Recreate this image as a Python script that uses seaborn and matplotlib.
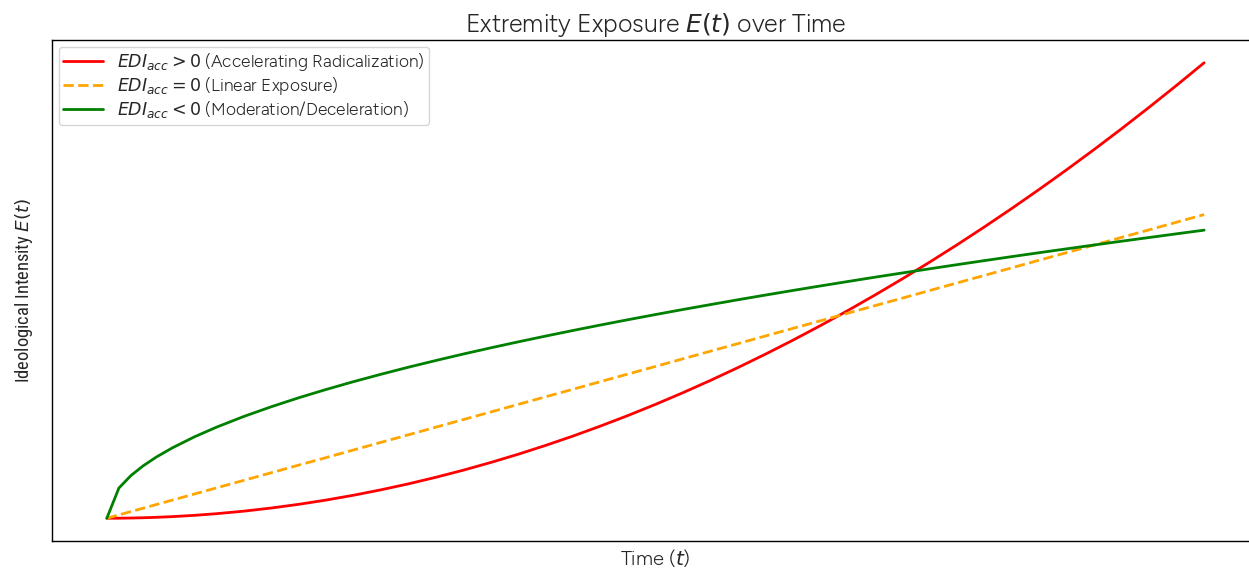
import pandas as pd
import matplotlib.pyplot as plt
import seaborn as sns

# time samples and the three exposure curves
t = [0, 0.11, 0.22, 0.33, 0.45, 0.6, 0.8, 1.0, 1.25, 1.5, 1.75, 2, 2.25, 2.5, 2.75, 3,
     3.25, 3.5, 3.75, 4, 4.25, 4.5, 4.75, 5, 5.25, 5.5, 5.75, 6, 6.25, 6.5, 6.75, 7,
     7.25, 7.5, 7.75, 8, 8.25, 8.5, 8.75, 9, 9.25, 9.5, 9.75, 10]
e_accel = [0, 0.001, 0.005, 0.011, 0.020, 0.036, 0.064, 0.1, 0.156, 0.225, 0.306, 0.4,
           0.506, 0.625, 0.756, 0.9, 1.056, 1.225, 1.406, 1.6, 1.806, 2.025, 2.256, 2.5,
           2.756, 3.025, 3.306, 3.6, 3.906, 4.225, 4.556, 4.9, 5.256, 5.625, 6.006, 6.4,
           6.806, 7.225, 7.656, 8.1, 8.556, 9.025, 9.506, 10]
e_linear = [0, 0.073, 0.147, 0.22, 0.3, 0.4, 0.533, 0.667, 0.833, 1.0, 1.167, 1.333,
            1.5, 1.667, 1.833, 2.0, 2.167, 2.333, 2.5, 2.667, 2.833, 3.0, 3.167, 3.333,
            3.5, 3.667, 3.833, 4.0, 4.167, 4.333, 4.5, 4.667, 4.833, 5.0, 5.167, 5.333,
            5.5, 5.667, 5.833, 6.0, 6.167, 6.333, 6.5, 6.667]
e_decel = [0, 0.663, 0.938, 1.149, 1.342, 1.549, 1.789, 2.0, 2.236, 2.449, 2.646, 2.828,
           3.0, 3.162, 3.317, 3.464, 3.606, 3.742, 3.873, 4.0, 4.123, 4.243, 4.359, 4.472,
           4.583, 4.690, 4.796, 4.899, 5.0, 5.099, 5.196, 5.292, 5.385, 5.477, 5.568,
           5.657, 5.745, 5.831, 5.916, 6.0, 6.083, 6.164, 6.245, 6.325]

labels = [r"$EDI_{acc} > 0$ (Accelerating Radicalization)",
          r"$EDI_{acc} = 0$ (Linear Exposure)",
          r"$EDI_{acc} < 0$ (Moderation/Deceleration)"]

df = pd.DataFrame({"t": t, "acc": e_accel, "lin": e_linear, "dec": e_decel})

sns.set_style("white")
plt.rcParams["font.family"] = ["Figtree", "DejaVu Sans"]
plt.rcParams["mathtext.fontset"] = "dejavusans"

fig, ax = plt.subplots(figsize=(12.49, 5.68), dpi=100)
fig.subplots_adjust(left=0.0416, right=1.008, bottom=0.0475, top=0.9296)

sns.lineplot(data=df, x="t", y="acc", color="red", lw=2, label=labels[0], ax=ax)
sns.lineplot(data=df, x="t", y="lin", color="orange", lw=2, linestyle="--",
             label=labels[1], ax=ax)
sns.lineplot(data=df, x="t", y="dec", color="green", lw=2, label=labels[2], ax=ax)

ax.set_title(r"Extremity Exposure $E(t)$ over Time", fontsize=18)
ax.set_xlabel(r"Time ($t$)", fontsize=14.5)
ax.set_ylabel(r"Ideological Intensity $E(t)$", fontsize=13.3, labelpad=12,
              family=["Roboto Condensed", "DejaVu Sans"])
ax.set_xticks([])
ax.set_yticks([])
for s in ax.spines.values():
    s.set_color("black")
    s.set_linewidth(1)
ax.legend(loc="upper left", fontsize=12.5, labelspacing=0.12, handlelength=2.3,
          borderpad=0.25, borderaxespad=0.4)

plt.savefig("out.png")
